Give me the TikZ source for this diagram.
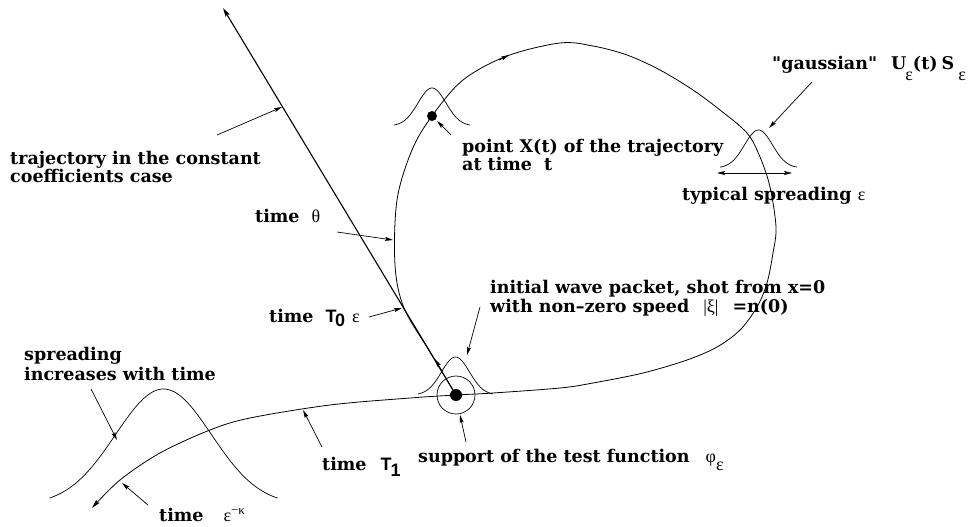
\documentclass[tikz,border=0pt]{standalone}
\usepackage{fontspec}
\newfontfamily\bt{DejaVu Serif}
\newfontfamily\gk{Liberation Serif}
\newfontfamily\hv{Liberation Sans}
\usetikzlibrary{arrows.meta}
\newcommand\gr[1]{{\gk\mdseries\fontsize{18}{18}\selectfont #1}}
\begin{document}
\begin{tikzpicture}[x=1pt,y=-1pt,
  lbl/.style={anchor=base west,inner sep=0pt,font=\bt\fontsize{17.5}{18}\selectfont\bfseries},
  arr/.style={-{Stealth[length=8pt,width=4pt,inset=1.5pt]},line width=0.7pt},
  dbl/.style={{Stealth[length=8pt,width=4pt,inset=1.5pt]}-{Stealth[length=8pt,width=4pt,inset=1.5pt]},line width=0.7pt},
  curve/.style={line width=0.8pt},
  bell/.style={line width=0.7pt}
]
\useasboundingbox (0,0) rectangle (977,527);

% key points
\coordinate (O) at (456,395);
\coordinate (top) at (223,8);
\coordinate (X) at (432,116);

% straight trajectory (constant coefficients)
\draw[line width=1.1pt,-{Stealth[length=9pt,width=4.5pt,inset=1.5pt]}] (O) -- (top);
\coordinate (sa1) at (442,371);
\coordinate (sa2) at (435,359);
\draw[arr] (sa1) -- (sa2);

% curved trajectory
\draw[curve,-{Stealth[length=9pt,width=4.5pt,inset=1.5pt]}] plot[smooth,tension=0.55] coordinates {
 (456,395) (430,352) (404,308) (395,265) (397,200) (412,150) (432,116) (463,80)
 (507,56) (560,43) (593,46) (627,55) (660,70) (693,90) (720,110) (747,133)
 (760,157) (770,187) (776,227) (773,253) (767,283) (757,307) (740,330) (717,347)
 (687,360) (643,373) (593,383) (560,388) (493,393) (456,395) (410,398) (330,405)
 (250,418) (210,430) (160,453) (120,480) (92,508)};
\coordinate (ca1) at (499,60);
\coordinate (ca2) at (509,55);
\draw[arr] (ca1) -- (ca2);

% gaussians
\draw[bell] plot[domain=-38:38,samples=50,smooth] ({432+\x},{126-38*exp(-(\x*\x)/392)});
\draw[bell] plot[domain=-38.5:38.5,samples=50,smooth] ({758.5+\x},{168-38*exp(-(\x*\x)/392)});
\draw[bell] plot[domain=-37.5:37.5,samples=50,smooth] ({455.5+\x},{395-38*exp(-(\x*\x)/392)});
\draw[bell] plot[domain=-38:38,samples=60,smooth] ({163.5+3*\x},{505-116*exp(-(\x*\x)/512)});

% support circle and dots
\draw[line width=0.7pt] (O) circle[radius=19];
\fill (O) circle[radius=6];
\fill (X) circle[radius=5];

% label arrows
\coordinate (trajT) at (217,135); \coordinate (trajH) at (282,107);
\draw[arr] (trajT) -- (trajH);
\coordinate (thT) at (337,232); \coordinate (thH) at (393,240);
\draw[arr] (thT) -- (thH);
\coordinate (t0T) at (369,317); \coordinate (t0H) at (402,308);
\draw[arr] (t0T) -- (t0H);
\coordinate (ptT) at (451,135); \coordinate (ptH) at (437,121);
\draw[arr] (ptT) -- (ptH);
\coordinate (gaT) at (812,82); \coordinate (gaH) at (769,128);
\draw[arr] (gaT) -- (gaH);
\coordinate (inT) at (480,307); \coordinate (inH) at (467,355);
\draw[arr] (inT) -- (inH);
\coordinate (suT) at (466,442); \coordinate (suH) at (460,415);
\draw[arr] (suT) -- (suH);
\coordinate (t1T) at (322,447); \coordinate (t1H) at (303,410);
\draw[arr] (t1T) -- (t1H);
\coordinate (spT) at (91,389); \coordinate (spH) at (117,440);
\draw[arr] (spT) -- (spH);
\coordinate (ekT) at (148,505); \coordinate (ekH) at (122,483);
\draw[arr] (ekT) -- (ekH);
\coordinate (wL) at (717,173); \coordinate (wR) at (792,173);
\draw[dbl] (wL) -- (wR);

% labels
\node[lbl] (traj1) at (10,164) {trajectory in the constant};
\node[lbl] (traj2) at (10,182) {coefficients case};
\node[lbl] (theta) at (255,222) {time\hspace{12pt}\gr{θ}};
\node[lbl] (tzero) at (269,322) {time\hspace{12pt}{\hv\bfseries\fontsize{18}{18}\selectfont T\kern-1.5pt\raisebox{-4pt}{0}}\hspace{7pt}\gr{ε}};
\node[lbl] (pt1) at (462,152) {point X(t) of the trajectory};
\node[lbl] (pt2) at (462,170) {at time\hspace{12pt}t};
\node[lbl] (gauss) at (772,70) {"gaussian"\hspace{14pt}U\kern-1pt\raisebox{-11pt}{\gr{ε}}(t)\hspace{4pt}S\hspace{4pt}\raisebox{-11pt}{\gr{ε}}};
\node[lbl] (typ) at (682,200) {typical spreading \gr{ε}};
\node[lbl] (init1) at (490,293) {initial wave packet, shot from x=0};
\node[lbl] (init2) at (490,312) {with non–zero speed\hspace{14pt}\gr{|ξ|}\hspace{14pt}=n(0)};
\node[lbl] (supp) at (418,462) {support of the test function\hspace{16pt}\gr{φ\raisebox{-8pt}{ε}}};
\node[lbl] (tone) at (322,470) {time\hspace{14pt}{\hv\bfseries\fontsize{18}{18}\selectfont T\kern-1pt\raisebox{-6pt}{1}}};
\node[lbl] (spr1) at (24,360) {spreading};
\node[lbl] (spr2) at (24,380) {increases with time};
\node[lbl] (tek) at (159,521) {time\hspace{20pt}\gr{ε\raisebox{7pt}{\fontsize{13}{13}\selectfont −κ}}};
\end{tikzpicture}
\end{document}
